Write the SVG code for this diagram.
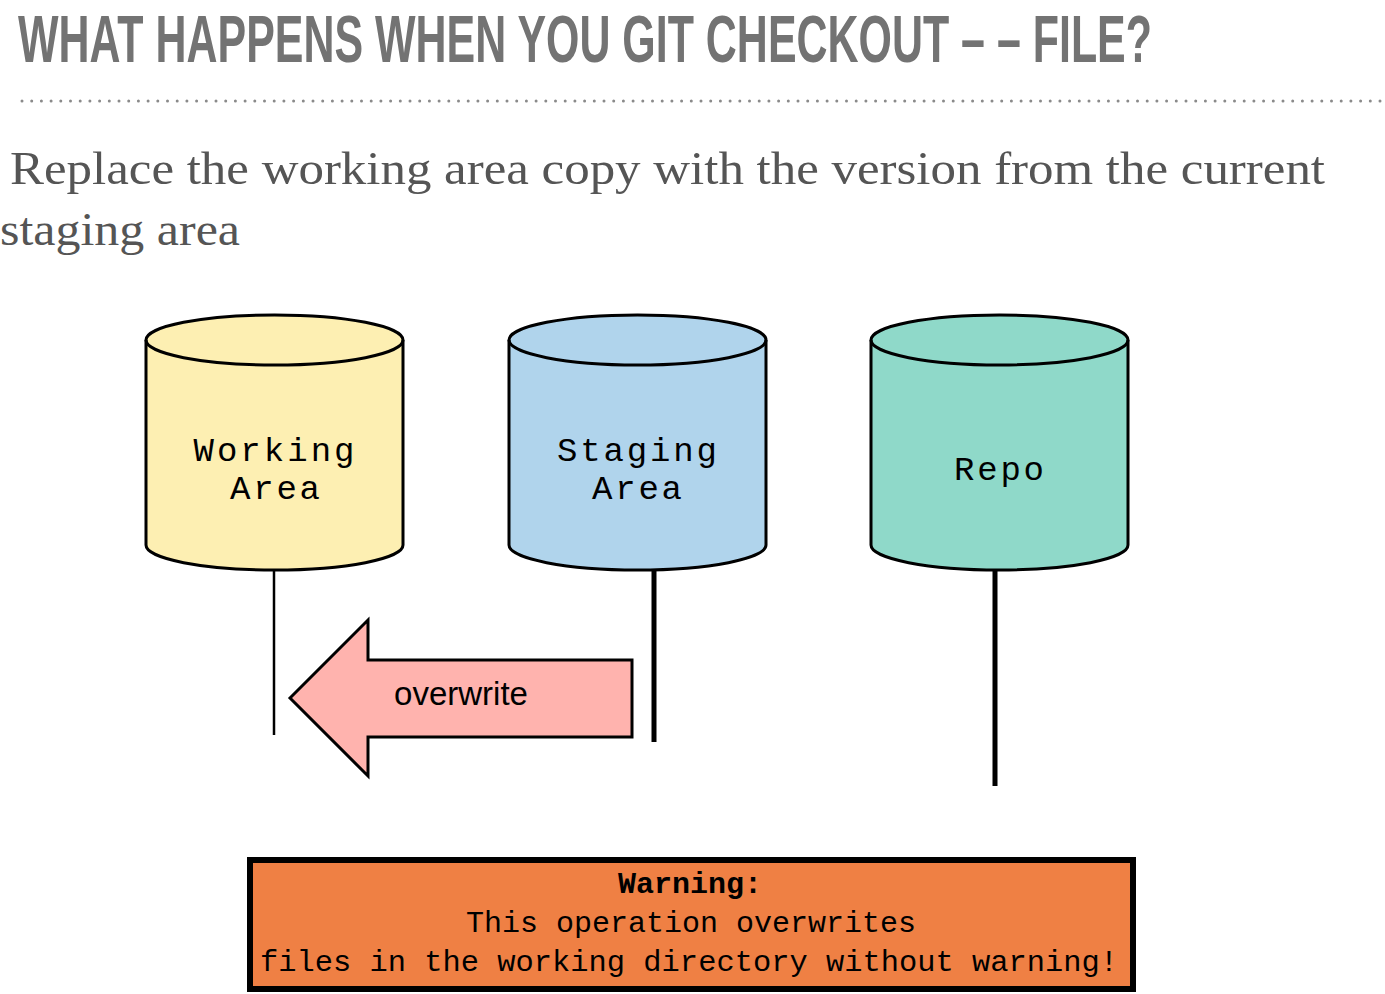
<svg xmlns="http://www.w3.org/2000/svg" width="1385" height="994" viewBox="0 0 1385 994">
<style>
.title{font-family:"Liberation Sans",sans-serif;font-weight:bold;fill:#737373}
.sub{font-family:"Liberation Serif",serif;fill:#555}
.cyl{stroke:#000;stroke-width:3}
.lbl{font-family:"Liberation Mono",monospace;font-size:34px;fill:#000;text-anchor:middle}
.warn{font-family:"Liberation Mono",monospace;font-size:30px;fill:#000;text-anchor:middle}
</style>
<rect width="1385" height="994" fill="#fff"/>
<text class="title" x="18" y="62" font-size="66" textLength="1134" lengthAdjust="spacingAndGlyphs">WHAT HAPPENS WHEN YOU GIT CHECKOUT – – FILE?</text>
<line x1="22" y1="101" x2="1382" y2="101" stroke="#8a8a8a" stroke-width="3" stroke-dasharray="0 9.7" stroke-linecap="round"/>
<text class="sub" x="10" y="184" font-size="46" textLength="1315" lengthAdjust="spacingAndGlyphs">Replace the working area copy with the version from the current</text>
<text class="sub" x="0" y="245" font-size="46" textLength="240" lengthAdjust="spacingAndGlyphs">staging area</text>

<g id="connectors">
<line x1="274" y1="570" x2="274" y2="735" stroke="#000" stroke-width="2.5"/>
<line x1="654" y1="570" x2="654" y2="742" stroke="#000" stroke-width="5"/>
<line x1="995" y1="570" x2="995" y2="786" stroke="#000" stroke-width="5"/>
</g>

<g id="working">
<path class="cyl" fill="#fdefb2" d="M146,340 A128.5,25 0 0 1 403,340 V545 A128.5,25 0 0 1 146,545 Z"/>
<path class="cyl" fill="none" d="M146,340 A128.5,25 0 0 0 403,340"/>
<text class="lbl" x="274" y="461" textLength="161" lengthAdjust="spacing">Working</text>
<text class="lbl" x="275" y="499" textLength="90" lengthAdjust="spacing">Area</text>
</g>
<g id="staging">
<path class="cyl" fill="#b0d4ec" d="M509,340 A128.5,25 0 0 1 766,340 V545 A128.5,25 0 0 1 509,545 Z"/>
<path class="cyl" fill="none" d="M509,340 A128.5,25 0 0 0 766,340"/>
<text class="lbl" x="637" y="461" textLength="160" lengthAdjust="spacing">Staging</text>
<text class="lbl" x="637" y="499" textLength="90" lengthAdjust="spacing">Area</text>
</g>
<g id="repo">
<path class="cyl" fill="#8fd9c9" d="M871,340 A128.5,25 0 0 1 1128,340 V545 A128.5,25 0 0 1 871,545 Z"/>
<path class="cyl" fill="none" d="M871,340 A128.5,25 0 0 0 1128,340"/>
<text class="lbl" x="999" y="480" textLength="90" lengthAdjust="spacing">Repo</text>
</g>

<g id="overwrite">
<polygon points="290,698 368,620 368,660 632,660 632,737 368,737 368,776" fill="#ffb3ae" stroke="#000" stroke-width="3"/>
<text x="461" y="705" font-family="Liberation Sans,sans-serif" font-size="33" text-anchor="middle" fill="#000">overwrite</text>
</g>

<g id="warning">
<rect x="250" y="860" width="883" height="129" fill="#ef8044" stroke="#000" stroke-width="6"/>
<text class="warn" x="690" y="893" font-weight="bold">Warning:</text>
<text class="warn" x="691" y="932">This operation overwrites</text>
<text class="warn" x="689" y="971" textLength="858" lengthAdjust="spacingAndGlyphs">files in the working directory without warning!</text>
</g>
</svg>
